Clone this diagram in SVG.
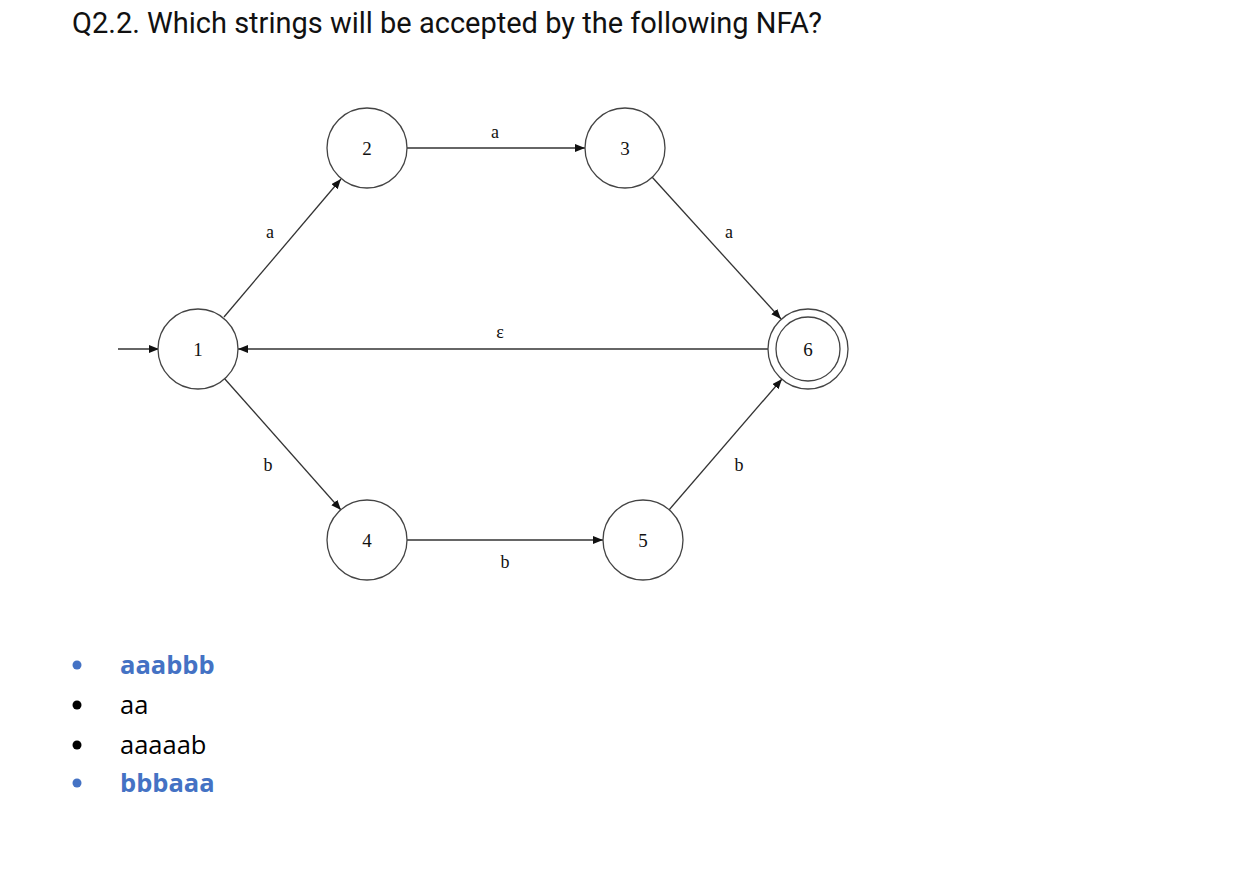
<svg xmlns="http://www.w3.org/2000/svg" width="1252" height="872" viewBox="0 0 1252 872">
<style>
.st{fill:#fff;stroke:#444;stroke-width:1.3}
.nl{font-family:"Liberation Serif",serif;font-size:19px;fill:#111;text-anchor:middle}
.el{font-family:"Liberation Serif",serif;font-size:18px;fill:#111;text-anchor:middle}
.e{stroke:#333;stroke-width:1.3;fill:none;marker-end:url(#ah)}
.title{font-family:Roboto,"Liberation Sans",sans-serif;font-size:29px;fill:#111}
.li{font-family:"Open Sans","Noto Sans",sans-serif;font-size:25.5px}
.blue{fill:#4472C4;font-weight:bold}
.blk{fill:#000}
</style>
<defs>
<marker id="ah" markerUnits="userSpaceOnUse" markerWidth="12" markerHeight="10" refX="10" refY="4" orient="auto">
<path d="M0,0 L10,4 L0,8 Z" fill="#111"/>
</marker>
</defs>
<rect width="1252" height="872" fill="#fff"/>
<text class="title" x="72" y="33">Q2.2. Which strings will be accepted by the following NFA?</text>
<g id="connectors">
<line class="e" x1="118" y1="349" x2="159" y2="349"/>
<line class="e" x1="224" y1="317" x2="341" y2="179"/>
<line class="e" x1="407" y1="148" x2="585" y2="148"/>
<line class="e" x1="652" y1="177" x2="781" y2="319"/>
<line class="e" x1="768" y1="349" x2="238" y2="349"/>
<line class="e" x1="224" y1="378" x2="341" y2="510"/>
<line class="e" x1="407" y1="540" x2="603" y2="540"/>
<line class="e" x1="669" y1="510" x2="782" y2="379"/>
<text class="el" x="270" y="238">a</text>
<text class="el" x="495" y="138">a</text>
<text class="el" x="729" y="238">a</text>
<text class="el" x="500" y="338">ε</text>
<text class="el" x="268" y="471">b</text>
<text class="el" x="505" y="568">b</text>
<text class="el" x="739" y="471">b</text>
</g>
<g id="n1"><circle class="st" cx="198" cy="349" r="40"/><text class="nl" x="198" y="356">1</text></g>
<g id="n2"><circle class="st" cx="367" cy="148" r="40"/><text class="nl" x="367" y="155">2</text></g>
<g id="n3"><circle class="st" cx="625" cy="148" r="40"/><text class="nl" x="625" y="155">3</text></g>
<g id="n4"><circle class="st" cx="367" cy="540" r="40"/><text class="nl" x="367" y="547">4</text></g>
<g id="n5"><circle class="st" cx="643" cy="540" r="40"/><text class="nl" x="643" y="547">5</text></g>
<g id="n6"><circle class="st" cx="808" cy="349" r="40"/><circle class="st" cx="808" cy="349" r="32"/><text class="nl" x="808" y="356">6</text></g>
<g id="list">
<circle cx="77" cy="665" r="4.5" fill="#4472C4"/>
<text class="li blue" x="120" y="674">aaabbb</text>
<circle cx="77" cy="705" r="4.5" fill="#000"/>
<text class="li blk" x="120" y="714">aa</text>
<circle cx="77" cy="745" r="4.5" fill="#000"/>
<text class="li blk" x="120" y="754">aaaaab</text>
<circle cx="77" cy="783" r="4.5" fill="#4472C4"/>
<text class="li blue" x="120" y="792">bbbaaa</text>
</g>
</svg>
